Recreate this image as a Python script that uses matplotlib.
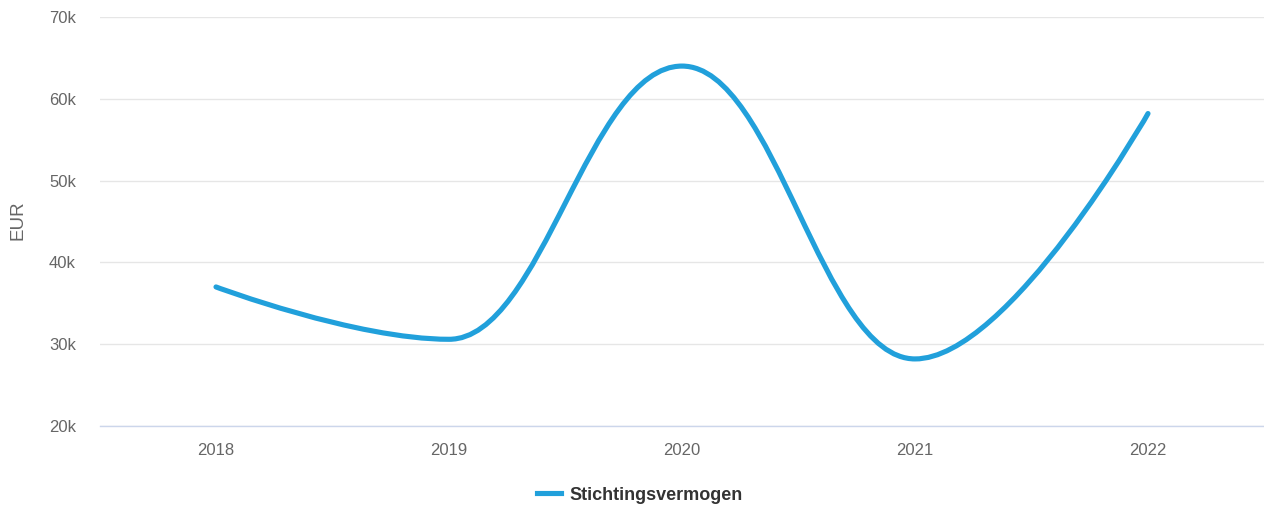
import numpy as np
import matplotlib.pyplot as plt
from matplotlib.path import Path
from matplotlib.patches import PathPatch
from matplotlib.lines import Line2D

years = ["2018", "2019", "2020", "2021", "2022"]
vermogen = [37.0, 30.6, 64.0, 28.2, 58.2]  # x 1000 EUR
yticks = [20, 30, 40, 50, 60, 70]

LINE = "#21a0db"
TXT = "#666666"


def spline_path(xs, ys, smoothing=1.5):
    # highcharts-style spline: cubic bezier with smoothed control points
    n = len(xs)
    lc = [None] * n
    rc = [None] * n
    for i in range(1, n - 1):
        px, py = xs[i], ys[i]
        lx, ly = xs[i - 1], ys[i - 1]
        nx_, ny = xs[i + 1], ys[i + 1]
        d = smoothing + 1
        lcx = (smoothing * px + lx) / d
        lcy = (smoothing * py + ly) / d
        rcx = (smoothing * px + nx_) / d
        rcy = (smoothing * py + ny) / d
        if rcx != lcx:
            corr = (rcy - lcy) * (rcx - px) / (rcx - lcx) + py - rcy
            lcy += corr
            rcy += corr
        if lcy > ly and lcy > py:
            lcy = max(ly, py)
            rcy = 2 * py - lcy
        elif lcy < ly and lcy < py:
            lcy = min(ly, py)
            rcy = 2 * py - lcy
        if rcy > ny and rcy > py:
            rcy = max(ny, py)
            lcy = 2 * py - rcy
        elif rcy < ny and rcy < py:
            rcy = min(ny, py)
            lcy = 2 * py - rcy
        lc[i] = (lcx, lcy)
        rc[i] = (rcx, rcy)
    verts = [(xs[0], ys[0])]
    codes = [Path.MOVETO]
    for i in range(1, n):
        c1 = rc[i - 1] if rc[i - 1] else (xs[i - 1], ys[i - 1])
        c2 = lc[i] if lc[i] else (xs[i], ys[i])
        verts += [c1, c2, (xs[i], ys[i])]
        codes += [Path.CURVE4] * 3
    return Path(verts, codes)


plt.rcParams['font.family'] = ['Liberation Sans', 'DejaVu Sans']

fig = plt.figure(figsize=(12.64, 5.11), dpi=100)
ax = fig.add_axes([99.5 / 1264, 85 / 511, 1165 / 1264, 409 / 511])

x = np.arange(len(years))
path = spline_path(list(x), vermogen)
ax.add_patch(PathPatch(path, facecolor="none", edgecolor=LINE, lw=3.7,
                       capstyle="round", joinstyle="round", zorder=3))

ax.set_xlim(-0.5, len(years) - 0.5)
ax.set_ylim(20, 70)
ax.set_xticks(x)
ax.set_xticklabels(years)
ax.set_yticks(yticks)
ax.set_yticklabels([f"{v}k" for v in yticks])
ax.tick_params(axis="both", length=0, labelsize=12, labelcolor=TXT)
ax.tick_params(axis="y", pad=17)
ax.tick_params(axis="x", pad=12)
ax.grid(axis="y", color="#e6e6e6", lw=1)
ax.set_axisbelow(True)
for s in ["top", "right", "left"]:
    ax.spines[s].set_visible(False)
ax.spines["bottom"].set_color("#ccd6eb")
ax.spines["bottom"].set_linewidth(1)

fig.text(18 / 1264, 1 - 220 / 511, "EUR", rotation=90, ha="center", va="center",
         fontsize=13.5, color=TXT)

handle = Line2D([], [], color=LINE, lw=3.7)
fig.legend([handle], ["Stichtingsvermogen"], loc="center",
           bbox_to_anchor=(640 / 1264, 1 - 495 / 511), frameon=False,
           handlelength=1.33, handletextpad=0.45,
           prop={"weight": "bold", "size": 13})
for t in fig.legends[0].get_texts():
    t.set_color("#333333")

fig.savefig("out.png", dpi=100)
